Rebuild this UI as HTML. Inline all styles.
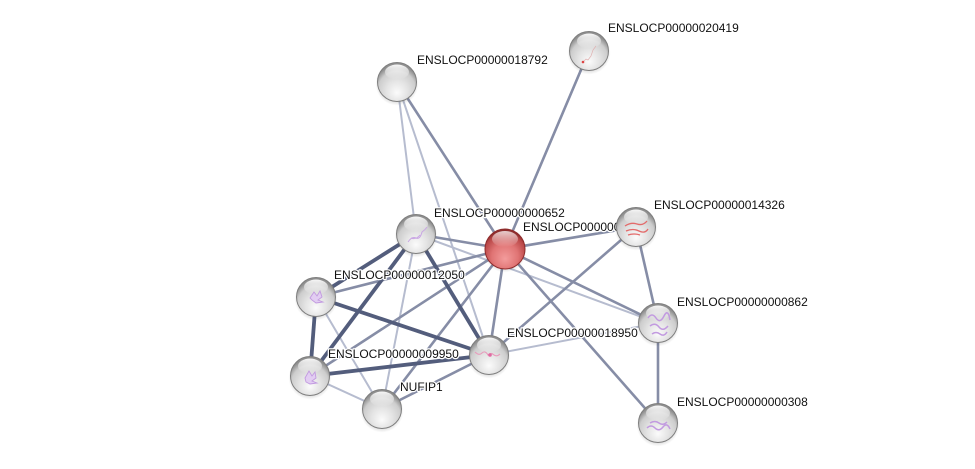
<!DOCTYPE html>
<html>
<head>
<meta charset="utf-8">
<style>
html,body{margin:0;padding:0;background:#fff;}
svg{display:block;}
text{font-family:"Liberation Sans",Arial,sans-serif;font-size:12px;fill:#111;stroke:#fff;stroke-width:2.5px;paint-order:stroke;stroke-linejoin:round;}
</style>
</head>
<body>
<svg width="975" height="469" viewBox="0 0 975 469" xmlns="http://www.w3.org/2000/svg">
<defs>
  <radialGradient id="g" cx="0.5" cy="0.68" r="0.6" fx="0.5" fy="0.78">
    <stop offset="0" stop-color="#fbfbfb"/>
    <stop offset="0.45" stop-color="#e4e4e4"/>
    <stop offset="0.8" stop-color="#cdcdcd"/>
    <stop offset="1" stop-color="#8f8f8f"/>
  </radialGradient>
  <radialGradient id="r" cx="0.5" cy="0.65" r="0.6" fx="0.5" fy="0.75">
    <stop offset="0" stop-color="#f39c9c"/>
    <stop offset="0.55" stop-color="#e07474"/>
    <stop offset="0.9" stop-color="#b84646"/>
    <stop offset="1" stop-color="#8e2c2c"/>
  </radialGradient>
  <linearGradient id="hl" x1="0" y1="0" x2="0" y2="1">
    <stop offset="0" stop-color="#fff" stop-opacity="0.95"/>
    <stop offset="1" stop-color="#fff" stop-opacity="0"/>
  </linearGradient>
  <radialGradient id="sh" cx="0.5" cy="0.5" r="0.5">
    <stop offset="0.7" stop-color="#000" stop-opacity="0.2"/>
    <stop offset="1" stop-color="#000" stop-opacity="0"/>
  </radialGradient>
  <g id="gn">
    <circle cx="0" cy="2" r="21.5" fill="url(#sh)"/>
    <circle cx="0" cy="0" r="19.5" fill="url(#g)" stroke="#7e7e7e" stroke-width="1"/>
    <ellipse cx="0" cy="-10" rx="12" ry="7.5" fill="url(#hl)"/>
  </g>
</defs>

<!-- light edges -->
<g stroke="#b6bccf" stroke-width="2" fill="none">
  <line x1="397" y1="82" x2="416" y2="234"/>
  <line x1="397" y1="82" x2="489" y2="355"/>
  <line x1="416" y1="234" x2="382" y2="409"/>
  <line x1="416" y1="234" x2="658" y2="323"/>
  <line x1="316" y1="297" x2="382" y2="409"/>
  <line x1="310" y1="376" x2="382" y2="409"/>
  <line x1="489" y1="355" x2="658" y2="323"/>
</g>
<!-- medium edges -->
<g stroke="#868da6" stroke-width="2.6" fill="none">
  <line x1="316" y1="297" x2="505" y2="249"/>
  <line x1="310" y1="376" x2="505" y2="249"/>
  <line x1="382" y1="409" x2="505" y2="249"/>
  <line x1="397" y1="82" x2="505" y2="249"/>
  <line x1="589" y1="51" x2="505" y2="249"/>
  <line x1="416" y1="234" x2="505" y2="249"/>
  <line x1="505" y1="249" x2="636" y2="227"/>
  <line x1="505" y1="249" x2="489" y2="355"/>
  <line x1="505" y1="249" x2="658" y2="323"/>
  <line x1="505" y1="249" x2="658" y2="423"/>
  <line x1="489" y1="355" x2="636" y2="227"/>
  <line x1="658" y1="323" x2="636" y2="227"/>
  <line x1="658" y1="323" x2="658" y2="423"/>
  <line x1="382" y1="409" x2="489" y2="355"/>
</g>
<!-- thick edges -->
<g stroke="#535d7c" stroke-width="3.8" fill="none">
  <line x1="416" y1="234" x2="316" y2="297"/>
  <line x1="416" y1="234" x2="310" y2="376"/>
  <line x1="416" y1="234" x2="489" y2="355"/>
  <line x1="316" y1="297" x2="310" y2="376"/>
  <line x1="316" y1="297" x2="489" y2="355"/>
  <line x1="310" y1="376" x2="489" y2="355"/>
</g>

<!-- labels -->
<text x="608" y="32">ENSLOCP00000020419</text>
<text x="417" y="64">ENSLOCP00000018792</text>
<text x="434" y="217">ENSLOCP00000000652</text>
<text x="523" y="231">ENSLOCP00000019337</text>
<text x="654" y="209">ENSLOCP00000014326</text>
<text x="334" y="279">ENSLOCP00000012050</text>
<text x="677" y="306">ENSLOCP00000000862</text>
<text x="507" y="337">ENSLOCP00000018950</text>
<text x="328" y="358">ENSLOCP00000009950</text>
<text x="400" y="391">NUFIP1</text>
<text x="677" y="406">ENSLOCP00000000308</text>

<!-- nodes -->
<use href="#gn" x="589" y="51"/>
<path d="M583 62 l3 -3 l2 1 l3 -4 l2 -6 l3 -4" stroke="#e0b0b0" stroke-width="0.7" fill="none"/>
<circle cx="583" cy="62" r="1.3" fill="#d44"/>
<use href="#gn" x="397" y="82"/>
<use href="#gn" x="416" y="234"/>
<path d="M408 242 q4 -6 8 -4 t6 -6 q3 -2 5 -5 M411 238 q5 2 9 -3" stroke="#c9a6e4" stroke-width="1" fill="none"/>
<use href="#gn" x="636" y="227"/>
<path d="M625 226 q6 -4 12 -2 t10 -3 M626 231 q7 -3 13 0 t9 -2 M628 235 q6 -2 12 0" stroke="#e36a6a" stroke-width="1.3" fill="none"/>
<use href="#gn" x="316" y="297"/>
<path d="M310 298 l4 -6 l3 4 l3 -5 l2 6 l-4 3 l5 2 l-7 1 l-4 -3 z" stroke="#c29ae0" stroke-width="0.9" fill="#e2cdf2"/>
<use href="#gn" x="658" y="323"/>
<path d="M648 318 q4 -6 8 0 t8 -2 t6 4 M650 326 q5 -4 9 1 t9 -1 M652 334 q4 -3 8 0 t7 -2" stroke="#c29ae0" stroke-width="1.5" fill="none"/>
<use href="#gn" x="489" y="355"/>
<path d="M475 352 q4 4 7 1 t6 2 q3 -3 6 0 q3 2 6 -1" stroke="#e89abb" stroke-width="1.1" fill="none"/>
<circle cx="490" cy="355" r="1.8" fill="#e06aa2"/>
<use href="#gn" x="310" y="376"/>
<path d="M305 378 l4 -7 l3 5 l3 -4 l1 6 l-4 3 l5 2 l-7 1 l-4 -2 z" stroke="#c29ae0" stroke-width="0.9" fill="#e2cdf2"/>
<use href="#gn" x="382" y="409"/>
<use href="#gn" x="658" y="423"/>
<path d="M647 428 q4 -4 8 0 t8 -1 t7 2 M650 423 q5 -3 9 0 t8 -1" stroke="#c29ae0" stroke-width="1.5" fill="none"/>

<!-- red node -->
<circle cx="505" cy="251" r="21.5" fill="url(#sh)"/>
<circle cx="505" cy="249" r="20" fill="url(#r)" stroke="#8e2c2c" stroke-width="1"/>
<ellipse cx="505" cy="239" rx="13" ry="8" fill="url(#hl)" opacity="0.8"/>
</svg>
</body>
</html>
